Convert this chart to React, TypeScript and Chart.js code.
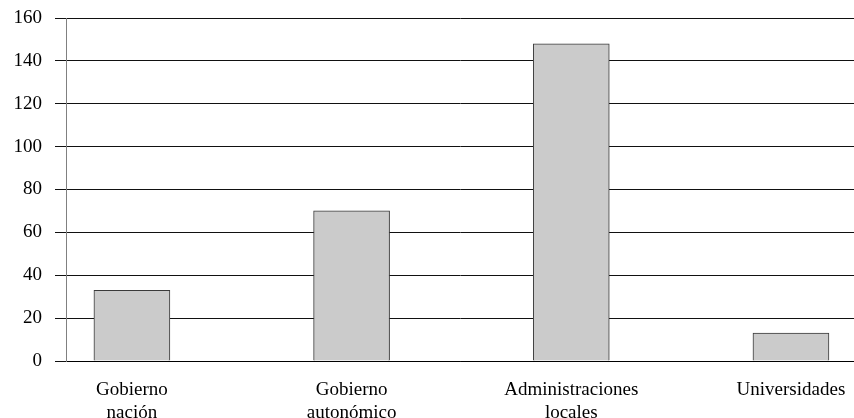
import React, { useEffect, useRef } from "react";
import { Chart, registerables } from "chart.js";

Chart.register(...registerables);

const categories: string[][] = [
  ["Gobierno", "nación"],
  ["Gobierno", "autonómico"],
  ["Administraciones", "locales"],
  ["Universidades"],
];
const values: number[] = [33, 70, 148, 13];
const yTicks: number[] = [0, 20, 40, 60, 80, 100, 120, 140, 160];

export default function App() {
  const ref = useRef<HTMLCanvasElement | null>(null);
  useEffect(() => {
    if (!ref.current) return;
    const font = { family: "'Liberation Serif', 'Times New Roman', serif", size: 19 };
    const chart = new Chart(ref.current, {
      type: "bar",
      data: {
        datasets: [
          {
            data: values.map((v, i) => ({ x: i, y: v })),
            backgroundColor: "#cbcbcb",
            borderColor: "#3a3a3a",
            borderWidth: 1,
            barThickness: 76,
          },
        ],
      },
      options: {
        animation: false,
        responsive: false,
        maintainAspectRatio: false,
        layout: { padding: { top: 18, right: 0, left: 0, bottom: 0 } },
        plugins: { legend: { display: false }, tooltip: { enabled: false } },
        scales: {
          x: {
            type: "linear",
            offset: false,
            bounds: "ticks",
            min: -0.3,
            max: 3.287,
            afterBuildTicks: (scale: any) => {
              scale.ticks = categories.map((_, i) => ({ value: i }));
            },
            afterFit: (scale: any) => {
              scale.height = 57;
              scale.paddingLeft = 0;
              scale.paddingRight = 0;
            },
            grid: { display: false, drawTicks: false },
            border: { display: true, color: "#000", width: 1 },
            ticks: {
              padding: 18,
              color: "#000",
              font: { ...font, lineHeight: 1.18 },
              maxRotation: 0,
              autoSkip: false,
              callback: (v: any) => categories[Math.round(Number(v))] ?? "",
            },
          },
          y: {
            min: 0,
            max: 160,
            afterBuildTicks: (scale: any) => {
              scale.ticks = yTicks.map((v) => ({ value: v }));
            },
            afterFit: (scale: any) => {
              scale.width = 66;
              scale.paddingTop = 0;
              scale.paddingBottom = 0;
            },
            grid: { color: "#111", lineWidth: 1, tickLength: 11, drawTicks: true },
            border: { display: true, color: "#808080", width: 1 },
            ticks: { padding: 13, color: "#000", font },
          },
        },
      },
    });
    return () => chart.destroy();
  }, []);
  return (
    <div style={{ position: "fixed", left: 0, top: 0, width: 854, height: 418, background: "#fff" }}>
      <canvas ref={ref} width={854} height={418} style={{ width: 854, height: 418 }} />
    </div>
  );
}
